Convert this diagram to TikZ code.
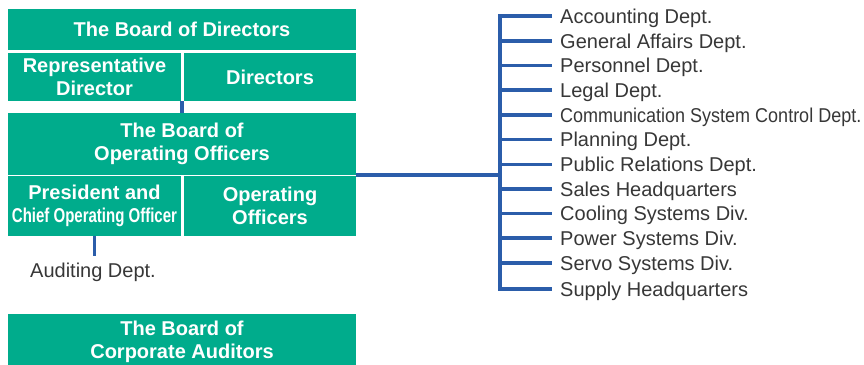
\documentclass[tikz,border=0pt]{standalone}
\usepackage{fontspec}
\setmainfont{Liberation Sans}
\definecolor{boardgreen}{RGB}{0,172,140}
\definecolor{linkblue}{RGB}{43,93,170}
\definecolor{labelgray}{RGB}{55,55,55}
\begin{document}
\begin{tikzpicture}[x=1pt,y=-1pt,
  board/.style={fill=boardgreen, draw=none, inner sep=0pt, text=white,
    font=\fontsize{20}{23.5}\selectfont\bfseries, align=center},
  link/.style={draw=linkblue, line width=3.3pt},
  unit/.style={anchor=west, inner sep=0pt, text height=14.3pt, text depth=0pt,
    text=labelgray, font=\fontsize{20}{23}\selectfont}
]
\useasboundingbox (0,0) rectangle (864,364);

% board boxes
\node[board, minimum width=348pt, minimum height=41pt] (bod) at (182,29.5) {The Board of Directors};
\node[board, minimum width=173pt, minimum height=48pt] (rep) at (94.5,77) {Representative\\Director};
\node[board, minimum width=172pt, minimum height=48pt] (dirs) at (270,77) {Directors};
\node[board, minimum width=348pt, minimum height=62pt] (boo) at (182,144) {The Board of\\Operating Officers};
\node[board, minimum width=173pt, minimum height=60pt] (pres) at (94.5,206) {President and\\\scalebox{0.75}[1]{Chief Operating Officer}};
\node[board, minimum width=172pt, minimum height=60pt] (opo) at (270,206) {Operating\\Officers};
\node[board, minimum width=348pt, minimum height=57pt] (bca) at (182,342) {The Board of\\Corporate Auditors};

% auditing department under the president
\node[unit, anchor=north] (audit) at (93,263) {Auditing Dept.};
\draw[link] (pres.south) -- ([yshift=7pt]pres.south |- audit.north);

% link between the two boards
\draw[link] (boo.north) -- (boo.north |- rep.south);

% departments and divisions
\foreach \i/\y/\t in {
  1/16/{Accounting Dept.},
  2/41/{General Affairs Dept.},
  3/65.5/{Personnel Dept.},
  4/90/{Legal Dept.},
  5/115/{\scalebox{0.9}[1]{Communication System Control Dept.}},
  6/139.5/{Planning Dept.},
  7/164.5/{Public Relations Dept.},
  8/189/{Sales Headquarters},
  9/213.5/{Cooling Systems Div.},
  10/238/{Power Systems Div.},
  11/263/{Servo Systems Div.},
  12/289/{Supply Headquarters}} {
  \node[unit] (u\i) at (560,\y) {\t};
  \coordinate (t\i) at (500,\y);
}
\coordinate (hub) at (356,175);

\draw[link, line join=miter] ([xshift=-8pt]u1.west) -- (t1) -- (t12) -- ([xshift=-8pt]u12.west);
\foreach \i in {2,...,11} {
  \draw[link] (t\i) -- ([xshift=-8pt]u\i.west);
}
\draw[link] (hub) -- (hub -| t1);
\end{tikzpicture}
\end{document}
